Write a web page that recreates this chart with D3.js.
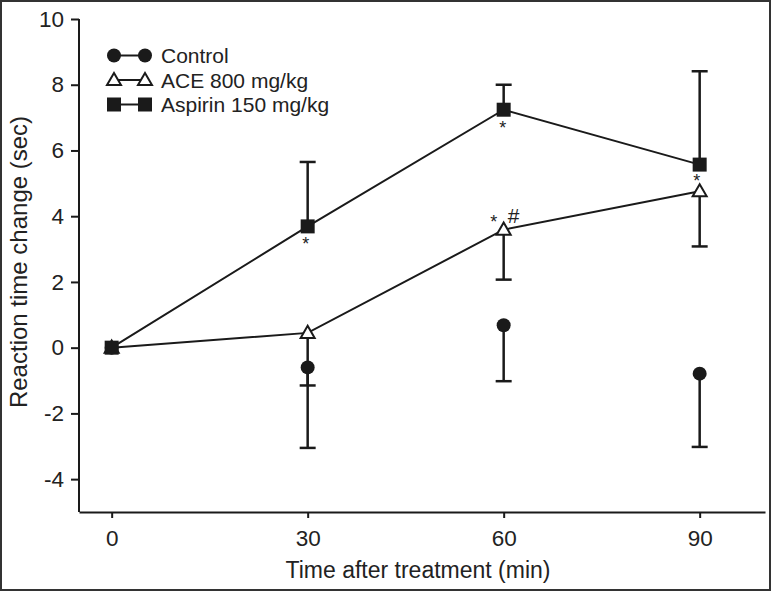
<!DOCTYPE html>
<html><head><meta charset="utf-8">
<script src="https://cdn.jsdelivr.net/npm/d3@7"></script>
<style>body{margin:0;background:#fff}svg{display:block}text{font-family:"Liberation Sans",Arial,sans-serif;fill:#222}</style>
</head><body>
<script>
const times = [0, 30, 60, 90];
const control = [0, -0.6, 0.68, -0.79];
const controlErr = [0, -3.05, -1.02, -3.02];   // lower end of error bar
const ace = [0, 0.45, 3.59, 4.76];
const aceErr = [0, -1.15, 2.07, 3.08];          // lower end of error bar
const aspirin = [0, 3.69, 7.24, 5.57];
const aspirinErr = [0, 5.65, 8.0, 8.41];        // upper end of error bar
const xTicks = [0, 30, 60, 90];
const yTicks = [-4, -2, 0, 2, 4, 6, 8, 10];
const legendLabels = ["Control", "ACE 800 mg/kg", "Aspirin 150 mg/kg"];

const W = 771, H = 591;
const FONT = '"Liberation Sans",Arial,sans-serif';
const svg = d3.select("body").append("svg").attr("width", W).attr("height", H);
svg.append("rect").attr("x", 1).attr("y", 1).attr("width", W - 2).attr("height", H - 2)
  .attr("fill", "#fff").attr("stroke", "#333").attr("stroke-width", 2);

const x = d3.scaleLinear().domain([-5, 100]).range([79, 765]);
const y = d3.scaleLinear().domain([-5, 10]).range([512, 19]);
const ink = "#1a1a1a";

// axes
const xAxis = svg.append("g").attr("transform", `translate(0,${y(-5)})`)
  .call(d3.axisBottom(x).tickValues(xTicks).tickSize(6).tickPadding(12).tickSizeOuter(0));
const yAxis = svg.append("g").attr("transform", `translate(${x(-5)},0)`)
  .call(d3.axisLeft(y).tickValues(yTicks).tickFormat(d => String(d)).tickSize(8).tickPadding(7).tickSizeOuter(0));
[xAxis, yAxis].forEach(g => {
  g.attr("font-size", 22.5).attr("font-family", FONT);
  g.select(".domain").attr("stroke", ink).attr("stroke-width", 2);
  g.selectAll(".tick line").attr("stroke", ink).attr("stroke-width", 2);
  g.selectAll(".tick text").attr("fill", "#222");
});
yAxis.select(".domain").attr("d", `M0,${y(-5)}V${y(10)}`);

svg.append("text").attr("x", 418).attr("y", 578).attr("text-anchor", "middle")
  .attr("font-size", 23).text("Time after treatment (min)");
svg.append("text").attr("transform", "translate(27,262) rotate(-90)").attr("text-anchor", "middle")
  .attr("font-size", 24).text("Reaction time change (sec)");

const pts = arr => arr.map((v, i) => [times[i], v]);
const line = d3.line().x(d => x(d[0])).y(d => y(d[1]));

// error bars
function errBars(vals, ends) {
  vals.forEach((v, i) => {
    if (i === 0) return;
    svg.append("line").attr("x1", x(times[i])).attr("x2", x(times[i]))
      .attr("y1", y(v)).attr("y2", y(ends[i])).attr("stroke", ink).attr("stroke-width", 2.5);
    svg.append("line").attr("x1", x(times[i]) - 8).attr("x2", x(times[i]) + 8)
      .attr("y1", y(ends[i])).attr("y2", y(ends[i])).attr("stroke", ink).attr("stroke-width", 2.5);
  });
}
errBars(control, controlErr);
errBars(ace, aceErr);
errBars(aspirin, aspirinErr);

// lines
svg.append("path").attr("d", line(pts(ace))).attr("fill", "none").attr("stroke", ink).attr("stroke-width", 2);
svg.append("path").attr("d", line(pts(aspirin))).attr("fill", "none").attr("stroke", ink).attr("stroke-width", 2);

// markers
const tri = d3.symbol().type(d3.symbolTriangle).size(85);
function circleAt(cx, cy) { svg.append("circle").attr("cx", cx).attr("cy", cy).attr("r", 7).attr("fill", ink); }
function triAt(cx, cy) { svg.append("path").attr("d", tri()).attr("transform", `translate(${cx},${cy + 1})`).attr("fill", "#fff").attr("stroke", ink).attr("stroke-width", 2); }
function sqAt(cx, cy) { svg.append("rect").attr("x", cx - 7).attr("y", cy - 7).attr("width", 14).attr("height", 14).attr("fill", ink); }
pts(control).forEach(d => circleAt(x(d[0]), y(d[1])));
pts(ace).forEach(d => triAt(x(d[0]), y(d[1])));
pts(aspirin).forEach(d => sqAt(x(d[0]), y(d[1])));

// significance marks
const marks = [
  {t: 30, v: aspirin[1], dx: -2, dy: 24, s: "*", fs: 18},
  {t: 60, v: aspirin[2], dx: -1, dy: 24, s: "*", fs: 18},
  {t: 90, v: aspirin[3], dx: -3, dy: 22, s: "*", fs: 18},
  {t: 60, v: ace[2], dx: -10, dy: -2, s: "*", fs: 18},
  {t: 60, v: ace[2], dx: 10, dy: -7, s: "#", fs: 21}
];
marks.forEach(m => svg.append("text").attr("x", x(m.t) + m.dx).attr("y", y(m.v) + m.dy)
  .attr("text-anchor", "middle").attr("font-size", m.fs).text(m.s));

// legend
const ly = [55.5, 80, 104.5];
const draw = [circleAt, triAt, sqAt];
legendLabels.forEach((lab, i) => {
  svg.append("line").attr("x1", 114).attr("x2", 145).attr("y1", ly[i]).attr("y2", ly[i]).attr("stroke", ink).attr("stroke-width", 2);
  draw[i](114, ly[i]); draw[i](145, ly[i]);
  svg.append("text").attr("x", 161).attr("y", ly[i] + 7.5).attr("font-size", 21).attr("textLength", null).text(lab);
});
</script>
</body></html>
